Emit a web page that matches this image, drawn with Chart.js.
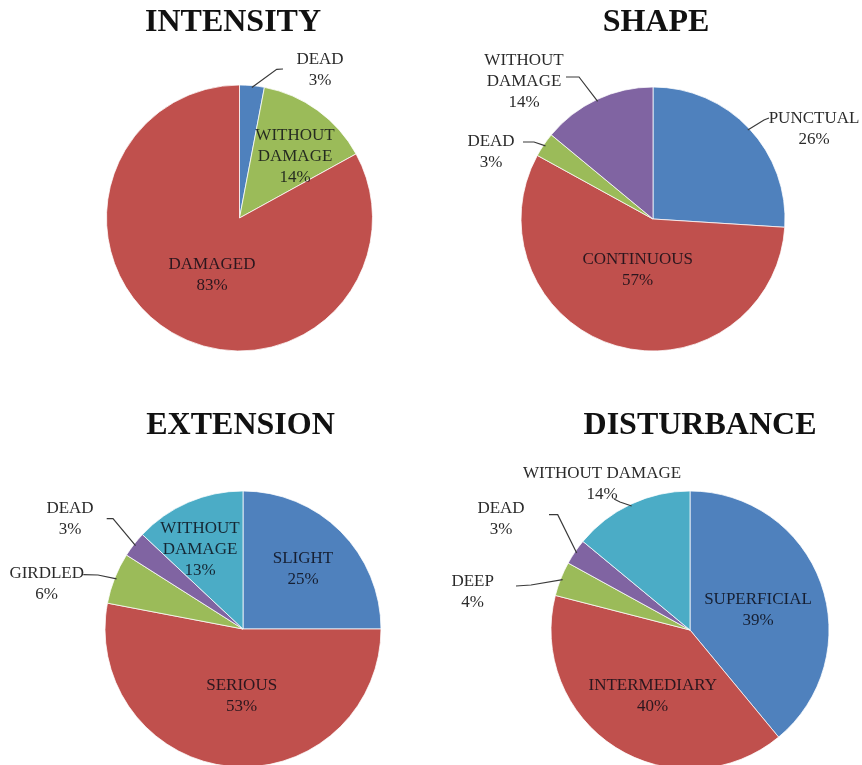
<!DOCTYPE html>
<html>
<head>
<meta charset="utf-8">
<script src="https://cdn.jsdelivr.net/npm/chart.js@4.4.0/dist/chart.umd.min.js"></script>
<style>
  html, body { margin: 0; padding: 0; background: #fff; }
  #wrap { position: relative; width: 862px; height: 765px; overflow: hidden; background: #fff; }
  #wrap canvas { position: absolute; }
</style>
</head>
<body>
<div id="wrap">
  <canvas id="intensity" width="431" height="382" style="left:0;top:0"></canvas>
  <canvas id="shape" width="431" height="382" style="left:431px;top:0"></canvas>
  <canvas id="extension" width="431" height="430" style="left:0;top:382px"></canvas>
  <canvas id="disturbance" width="431" height="430" style="left:431px;top:382px"></canvas>
</div>
<script>
// ---- data (percent of trees per class) ----
const intensityLabels = ['DEAD', 'WITHOUT DAMAGE', 'DAMAGED'];
const intensityValues = [3, 14, 83];

const shapeLabels = ['PUNCTUAL', 'CONTINUOUS', 'DEAD', 'WITHOUT DAMAGE'];
const shapeValues = [26, 57, 3, 14];

const extensionLabels = ['SLIGHT', 'SERIOUS', 'GIRDLED', 'DEAD', 'WITHOUT DAMAGE'];
const extensionValues = [25, 53, 6, 3, 13];

const disturbanceLabels = ['SUPERFICIAL', 'INTERMEDIARY', 'DEEP', 'DEAD', 'WITHOUT DAMAGE'];
const disturbanceValues = [39, 40, 4, 3, 14];

// ---- palette ----
const BLUE = '#4F81BD', RED = '#C0504D', GREEN = '#9BBB59', PURPLE = '#8064A2', CYAN = '#4BACC6';

const SERIF = '"Liberation Serif", "Times New Roman", Times, serif';

// Draws the panel title, slice labels and leader lines.
const pieAnnotations = {
  id: 'pieAnnotations',
  afterDatasetsDraw(chart, args, opts) {
    const ctx = chart.ctx;
    const meta = chart.getDatasetMeta(0);
    const ds = chart.data.datasets[0];
    ctx.save();
    ctx.textAlign = 'center';
    ctx.textBaseline = 'middle';
    ctx.fillStyle = '#111';
    ctx.font = 'bold 32px ' + SERIF;
    ctx.fillText(opts.title, opts.titleX, opts.titleY);

    ctx.font = '17px ' + SERIF;
    meta.data.forEach((arc, i) => {
      const st = opts.slices[i];
      if (!st) return;
      const p = arc.getProps(['x', 'y', 'startAngle', 'endAngle', 'outerRadius'], true);
      const name = chart.data.labels[i];
      const lines = st.wrap ? name.split(' ') : [name];
      lines.push(ds.data[i] + '%');

      if (st.leader) {
        const mid = (p.startAngle + p.endAngle) / 2;
        const ex = p.x + Math.cos(mid) * (p.outerRadius - 2);
        const ey = p.y + Math.sin(mid) * (p.outerRadius - 2);
        ctx.strokeStyle = '#3a3a3a';
        ctx.lineWidth = 1.2;
        ctx.beginPath();
        st.leader.forEach((pt, k) => {
          if (k === 0) ctx.moveTo(p.x + pt[0], p.y + pt[1]);
          else ctx.lineTo(p.x + pt[0], p.y + pt[1]);
        });
        ctx.lineTo(ex, ey);
        ctx.stroke();
      }

      ctx.fillStyle = st.inside ? 'rgba(10,10,20,0.82)' : '#2b2b2b';
      const lh = 21;
      const top = p.y + st.at[1] - (lines.length - 1) * lh / 2;
      lines.forEach((t, k) => ctx.fillText(t, p.x + st.at[0], top + k * lh));
    });
    ctx.restore();
  }
};

function makePie(id, labels, values, colors, geo, ann) {
  const canvas = document.getElementById(id);
  const W = canvas.width, H = canvas.height;
  return new Chart(canvas, {
    type: 'pie',
    data: {
      labels: labels,
      datasets: [{
        data: values,
        backgroundColor: colors,
        borderColor: 'rgba(255,255,255,0.75)',
        borderWidth: 1
      }]
    },
    options: {
      responsive: false,
      animation: false,
      radius: geo.r,
      layout: {
        padding: {
          left: geo.cx - geo.r,
          right: W - geo.cx - geo.r,
          top: geo.cy - geo.r,
          bottom: H - geo.cy - geo.r
        }
      },
      plugins: {
        legend: { display: false },
        tooltip: { enabled: false },
        pieAnnotations: ann
      }
    },
    plugins: [pieAnnotations]
  });
}

makePie('intensity', intensityLabels, intensityValues, [BLUE, GREEN, RED],
  { cx: 239.5, cy: 218, r: 133 },
  {
    title: 'INTENSITY', titleX: 233, titleY: 23,
    slices: [
      { at: [80.5, -148], leader: [[43.5, -149], [37.2, -148.7]] },
      { at: [55.5, -61], wrap: true, inside: true },
      { at: [-27.5, 57.5], inside: true }
    ]
  });

makePie('shape', shapeLabels, shapeValues, [BLUE, RED, GREEN, PURPLE],
  { cx: 222, cy: 219, r: 132 },
  {
    title: 'SHAPE', titleX: 225, titleY: 23,
    slices: [
      { at: [161, -90], leader: [[116, -101], [111, -99]] },
      { at: [-15.3, 51], inside: true },
      { at: [-162, -66.5], leader: [[-130, -77], [-119, -77]] },
      { at: [-129, -137], wrap: true, leader: [[-87, -142], [-74, -142]] }
    ]
  });

makePie('extension', extensionLabels, extensionValues, [BLUE, RED, GREEN, PURPLE, CYAN],
  { cx: 243, cy: 247, r: 138 },
  {
    title: 'EXTENSION', titleX: 240.5, titleY: 44,
    slices: [
      { at: [60, -59.5], inside: true },
      { at: [-1.3, 67], inside: true },
      { at: [-196.3, -45.3], leader: [[-159.7, -54.3], [-145, -54]] },
      { at: [-173, -109.5], leader: [[-136.3, -110.3], [-130, -110.3]] },
      { at: [-43, -79.5], wrap: true, inside: true }
    ]
  });

makePie('disturbance', disturbanceLabels, disturbanceValues, [BLUE, RED, GREEN, PURPLE, CYAN],
  { cx: 259, cy: 248, r: 139 },
  {
    title: 'DISTURBANCE', titleX: 269, titleY: 44,
    slices: [
      { at: [68, -19.5], inside: true },
      { at: [-37.3, 66], inside: true },
      { at: [-217.3, -38], leader: [[-174, -44], [-159, -45]] },
      { at: [-189, -110.5], leader: [[-141, -115.3], [-132.3, -115.3]] },
      { at: [-88, -146], leader: [[-76, -131], [-70, -128]] }
    ]
  });
</script>
</body>
</html>
